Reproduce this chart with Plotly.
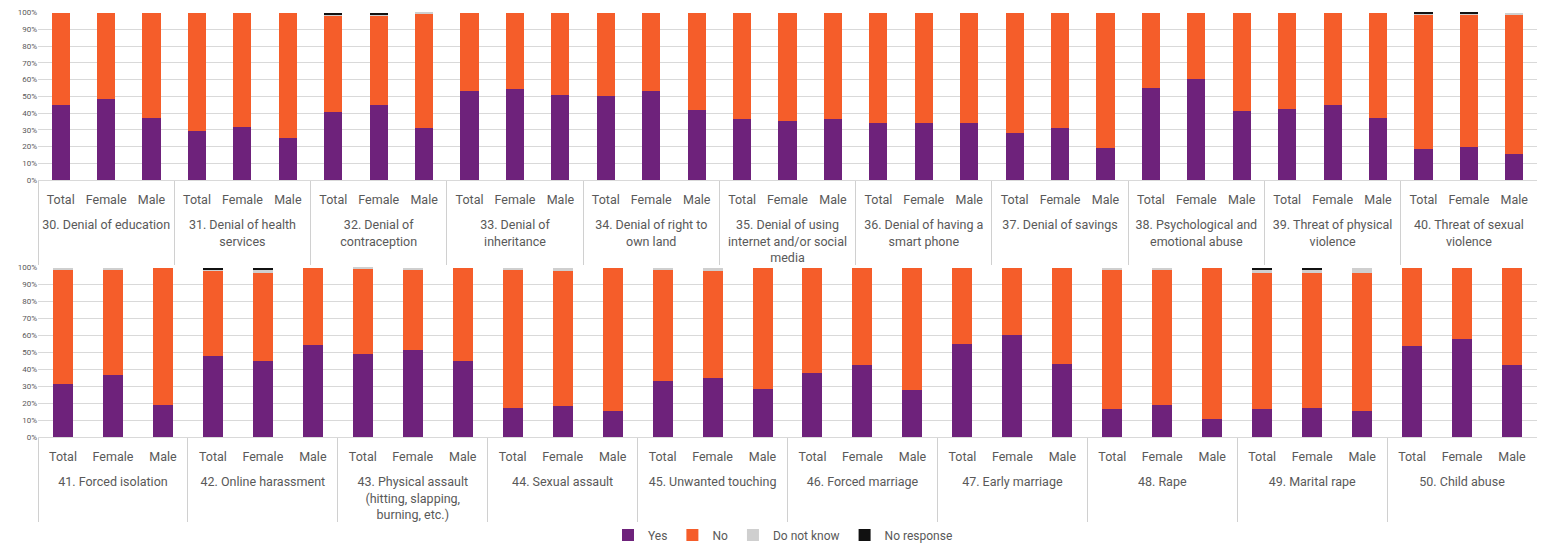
import plotly.graph_objects as go
from plotly.subplots import make_subplots

subs = ["Total", "Female", "Male"]

top_groups = [
    "30. Denial of education", "31. Denial of health<br>services", "32. Denial of<br>contraception",
    "33. Denial of<br>inheritance", "34. Denial of right to<br>own land",
    "35. Denial of using<br>internet and/or social<br>media", "36. Denial of having a<br>smart phone",
    "37. Denial of savings", "38. Psychological and<br>emotional abuse",
    "39. Threat of physical<br>violence", "40. Threat of sexual<br>violence",
]
bot_groups = [
    "41. Forced isolation", "42. Online harassment",
    "43. Physical assault<br>(hitting, slapping,<br>burning, etc.)", "44. Sexual assault",
    "45. Unwanted touching", "46. Forced marriage", "47. Early marriage", "48. Rape",
    "49. Marital rape", "50. Child abuse",
]

# values in percent, order per group: Total, Female, Male
top_yes = [45.1, 48.7, 36.8, 29.4, 31.6, 25.0, 40.5, 45.0, 31.0, 53.3, 54.1, 50.9,
           50.1, 53.3, 42.1, 36.2, 35.4, 36.2, 33.8, 33.8, 33.8, 27.8, 31.0, 19.1,
           54.7, 60.6, 41.4, 42.7, 45.1, 37.0, 18.3, 19.9, 15.3]
top_no = [54.9, 51.3, 63.2, 70.6, 68.4, 75.0, 58.0, 53.5, 68.5, 46.7, 45.9, 49.1,
          49.9, 46.7, 57.9, 63.8, 64.6, 63.8, 66.2, 66.2, 66.2, 72.2, 69.0, 80.9,
          45.3, 39.4, 58.6, 57.3, 54.9, 63.0, 80.8, 79.2, 83.9]
top_dk = [0, 0, 0, 0, 0, 0, 0.7, 0.7, 0.5, 0, 0, 0,
          0, 0, 0, 0, 0, 0, 0, 0, 0, 0, 0, 0,
          0, 0, 0, 0, 0, 0, 0.2, 0.2, 0.8]
top_nr = [0, 0, 0, 0, 0, 0, 0.8, 0.8, 0, 0, 0, 0,
          0, 0, 0, 0, 0, 0, 0, 0, 0, 0, 0, 0,
          0, 0, 0, 0, 0, 0, 0.7, 0.7, 0]

bot_yes = [31.5, 36.4, 18.7, 47.6, 44.9, 54.3, 49.2, 51.4, 44.9, 17.3, 18.1, 15.2,
           32.9, 35.0, 28.3, 37.8, 42.3, 27.6, 55.1, 60.0, 43.1, 16.5, 18.7, 10.4,
           16.5, 17.3, 15.2, 53.5, 57.9, 42.3]
bot_no = [67.1, 62.2, 81.3, 50.2, 52.1, 45.7, 50.2, 47.2, 55.1, 81.3, 79.7, 84.8,
          65.7, 62.8, 71.7, 62.2, 57.7, 72.4, 44.9, 40.0, 56.9, 82.1, 79.9, 89.6,
          80.5, 79.7, 81.8, 46.5, 42.1, 57.7]
bot_dk = [1.4, 1.4, 0, 1.2, 2.0, 0, 0.6, 1.4, 0, 1.4, 2.2, 0,
          1.4, 2.2, 0, 0, 0, 0, 0, 0, 0, 1.4, 1.4, 0,
          2.0, 2.0, 3.0, 0, 0, 0]
bot_nr = [0, 0, 0, 1.0, 1.0, 0, 0, 0, 0, 0, 0, 0,
          0, 0, 0, 0, 0, 0, 0, 0, 0, 0, 0, 0,
          1.0, 1.0, 0, 0, 0, 0]

y_ticks = list(range(0, 101, 10))
y_ticktext = [f"{v}%" for v in y_ticks]

series_names = ["Yes", "No", "Do not know", "No response"]
colors = ["#6E227B", "#F55D2A", "#CFCFCF", "#111111"]

FONT = "Roboto, 'DejaVu Sans', sans-serif"
TXT = "#595959"


def cats(groups):
    outer, inner = [], []
    for g in groups:
        for s in subs:
            # leading line break gives the group label row extra room below the sub labels
            outer.append("<br>" + g)
            inner.append(s)
    return [outer, inner]


fig = make_subplots(rows=2, cols=1)

top_x = cats(top_groups)
bot_x = cats(bot_groups)
top_vals = [top_yes, top_no, top_dk, top_nr]
bot_vals = [bot_yes, bot_no, bot_dk, bot_nr]

for i, name in enumerate(series_names):
    fig.add_trace(go.Bar(x=top_x, y=top_vals[i], name=name, marker_color=colors[i],
                         marker_line_width=0, legendgroup=name, showlegend=True),
                  row=1, col=1)
    fig.add_trace(go.Bar(x=bot_x, y=bot_vals[i], name=name, marker_color=colors[i],
                         marker_line_width=0, legendgroup=name, showlegend=False),
                  row=2, col=1)

# page body has an 8px margin on every side; keep the figure inside the window
OFF = 8
W, H = 1545 - 2 * OFF, 552 - 2 * OFF
pt, pb = 12 - OFF, 437 - OFF
pl, pr = 38 - OFF, 1537 - OFF
ph = pb - pt
pw = pr - pl


def ydom(y_top, y_bot):
    return [(pb - (y_bot - OFF)) / ph, (pb - (y_top - OFF)) / ph]


def xdom(x_l, x_r):
    return [max(0, ((x_l - OFF) - pl) / pw), min(1, ((x_r - OFF) - pl) / pw)]


yax = dict(range=[0, 100.4], tickmode="array", tickvals=y_ticks, ticktext=y_ticktext,
           showgrid=True, gridcolor="#D9D9D9", gridwidth=1, zeroline=False,
           tickfont=dict(size=8, color=TXT, family=FONT), showline=False, ticks="",
           automargin=False)
xax = dict(type="multicategory", showline=True, linecolor="#D9D9D9", linewidth=1,
           showdividers=True, dividercolor="#D0D0D0", dividerwidth=1, tickangle=0,
           tickfont=dict(size=12.5, color=TXT, family=FONT), ticks="", automargin=False,
           showgrid=False, ticklabelstandoff=8)

fig.update_layout(
    template="none",
    barmode="stack", bargap=0.6,
    width=W, height=H,
    margin=dict(l=pl, r=W - pr, t=pt, b=H - pb, autoexpand=False),
    paper_bgcolor="white", plot_bgcolor="white",
    font=dict(family=FONT, color=TXT),
    xaxis=dict(**xax, domain=xdom(38, 1537)),
    xaxis2=dict(**xax, domain=xdom(37.5, 1537)),
    yaxis=dict(**yax, domain=ydom(12, 180)),
    yaxis2=dict(**yax, domain=ydom(267, 437)),
    legend=dict(orientation="h", x=0.497, xanchor="center", y=(pb - (535 - OFF)) / ph,
                yanchor="middle", font=dict(size=12, color=TXT, family=FONT),
                traceorder="normal", itemwidth=30, tracegroupgap=0,
                bgcolor="rgba(0,0,0,0)"),
)

fig.write_html("out.html")
